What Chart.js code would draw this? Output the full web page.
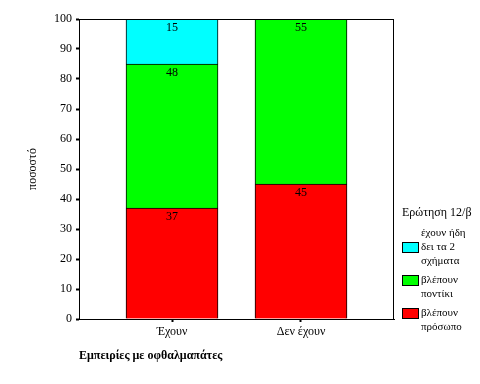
<!DOCTYPE html>
<html>
<head>
<meta charset="utf-8">
<script src="https://cdn.jsdelivr.net/npm/chart.js@4"></script>
<style>
    body { margin: 0; background: #fff; }
    canvas { display: block; }
</style>
</head>
<body>
<canvas id="chart" width="480" height="384"></canvas>
<script>
const categories = ['Έχουν', 'Δεν έχουν'];
const seriesNames = ['βλέπουν\nπρόσωπο', 'βλέπουν\nποντίκι', 'έχουν ήδη\nδει τα 2\nσχήματα'];
const faceValues = [37, 45];
const mouseValues = [48, 55];
const bothValues = [15, 0];
const yTicks = [0, 10, 20, 30, 40, 50, 60, 70, 80, 90, 100];
const legendTitle = 'Ερώτηση 12/β';

const FONT = '"Liberation Serif", "DejaVu Serif", serif';
const colors = ['#ff0000', '#00ff00', '#00ffff'];

function toPoints(values) {
    return values.map((v, i) => ({ x: i + 1, y: v }));
}

// plot frame on all four sides
const framePlugin = {
    id: 'frame',
    afterDraw(chart) {
        const { ctx, chartArea: a } = chart;
        ctx.save();
        ctx.strokeStyle = '#000';
        ctx.lineWidth = 1;
        ctx.strokeRect(a.left + 0.5, a.top + 0.5, a.right - a.left - 1, a.bottom - a.top);
        ctx.restore();
    }
};

// value labels near the top of each segment
const valueLabels = {
    id: 'valueLabels',
    afterDatasetsDraw(chart) {
        const ctx = chart.ctx;
        ctx.save();
        ctx.font = '12px ' + FONT;
        ctx.fillStyle = '#000';
        ctx.textAlign = 'center';
        ctx.textBaseline = 'middle';
        chart.data.datasets.forEach((ds, di) => {
            chart.getDatasetMeta(di).data.forEach((el, i) => {
                const v = ds.data[i].y;
                if (!v) return;
                ctx.fillText(String(v), el.x, el.y + 9);
            });
        });
        ctx.restore();
    }
};

// legend drawn at right, top item = last dataset
const sideLegend = {
    id: 'sideLegend',
    afterDraw(chart) {
        const ctx = chart.ctx;
        const x = 402;
        ctx.save();
        ctx.fillStyle = '#000';
        ctx.textBaseline = 'middle';
        ctx.font = '12px ' + FONT;
        ctx.fillText(legendTitle, x, 213);
        ctx.font = '11px ' + FONT;
        let y = 233;
        const dsList = chart.data.datasets.slice().reverse();
        dsList.forEach(ds => {
            const lines = ds.label.split('\n');
            const boxLine = Math.floor((lines.length - 1) / 2);
            const by = y + boxLine * 14 - 5;
            ctx.fillStyle = ds.backgroundColor;
            ctx.fillRect(x, by, 17, 11);
            ctx.strokeStyle = '#000';
            ctx.lineWidth = 1;
            ctx.strokeRect(x + 0.5, by + 0.5, 16, 10);
            ctx.fillStyle = '#000';
            lines.forEach((t, k) => ctx.fillText(t, x + 19, y + k * 14));
            y += lines.length * 14 + 5;
        });
        ctx.restore();
    }
};

new Chart(document.getElementById('chart'), {
    type: 'bar',
    data: {
        datasets: [faceValues, mouseValues, bothValues].map((vals, i) => ({
            label: seriesNames[i],
            data: toPoints(vals),
            stack: 'all',
            backgroundColor: colors[i],
            borderColor: '#000',
            borderWidth: 1,
            borderSkipped: 'start',
            barThickness: 92
        }))
    },
    options: {
        responsive: false,
        animation: false,
        layout: { padding: { top: 19, right: 86, left: 0, bottom: 0 } },
        plugins: {
            legend: { display: false },
            tooltip: { enabled: false }
        },
        scales: {
            x: {
                type: 'linear',
                offset: false,
                min: 0.279,
                max: 2.721,
                afterFit: s => { s.height = 65; },
                afterBuildTicks: s => { s.ticks = categories.map((c, i) => ({ value: i + 1 })); },
                ticks: {
                    color: '#000',
                    font: { family: FONT, size: 12 },
                    padding: 3,
                    callback: v => categories[v - 1]
                },
                grid: { offset: false, drawOnChartArea: false, tickLength: 3, tickWidth: 2, tickColor: '#000' },
                border: { color: '#000', width: 1 },
                title: {
                    display: true,
                    text: 'Εμπειρίες με οφθαλμαπάτες',
                    align: 'start',
                    color: '#000',
                    font: { family: FONT, size: 12, weight: 'bold' },
                    padding: { top: 0, bottom: 21 }
                }
            },
            y: {
                stacked: true,
                min: 0,
                max: 100,
                afterFit: s => { s.width = 79; },
                afterBuildTicks: s => { s.ticks = yTicks.map(v => ({ value: v })); },
                ticks: {
                    color: '#000',
                    font: { family: FONT, size: 12 },
                    padding: 4
                },
                grid: { drawOnChartArea: false, tickLength: 3, tickWidth: 2, tickColor: '#000' },
                border: { color: '#000', width: 1 },
                title: {
                    display: true,
                    text: 'ποσοστό',
                    color: '#000',
                    font: { family: FONT, size: 12 },
                    padding: { top: 26, bottom: 0 }
                }
            }
        }
    },
    plugins: [framePlugin, valueLabels, sideLegend]
});
</script>
</body>
</html>
